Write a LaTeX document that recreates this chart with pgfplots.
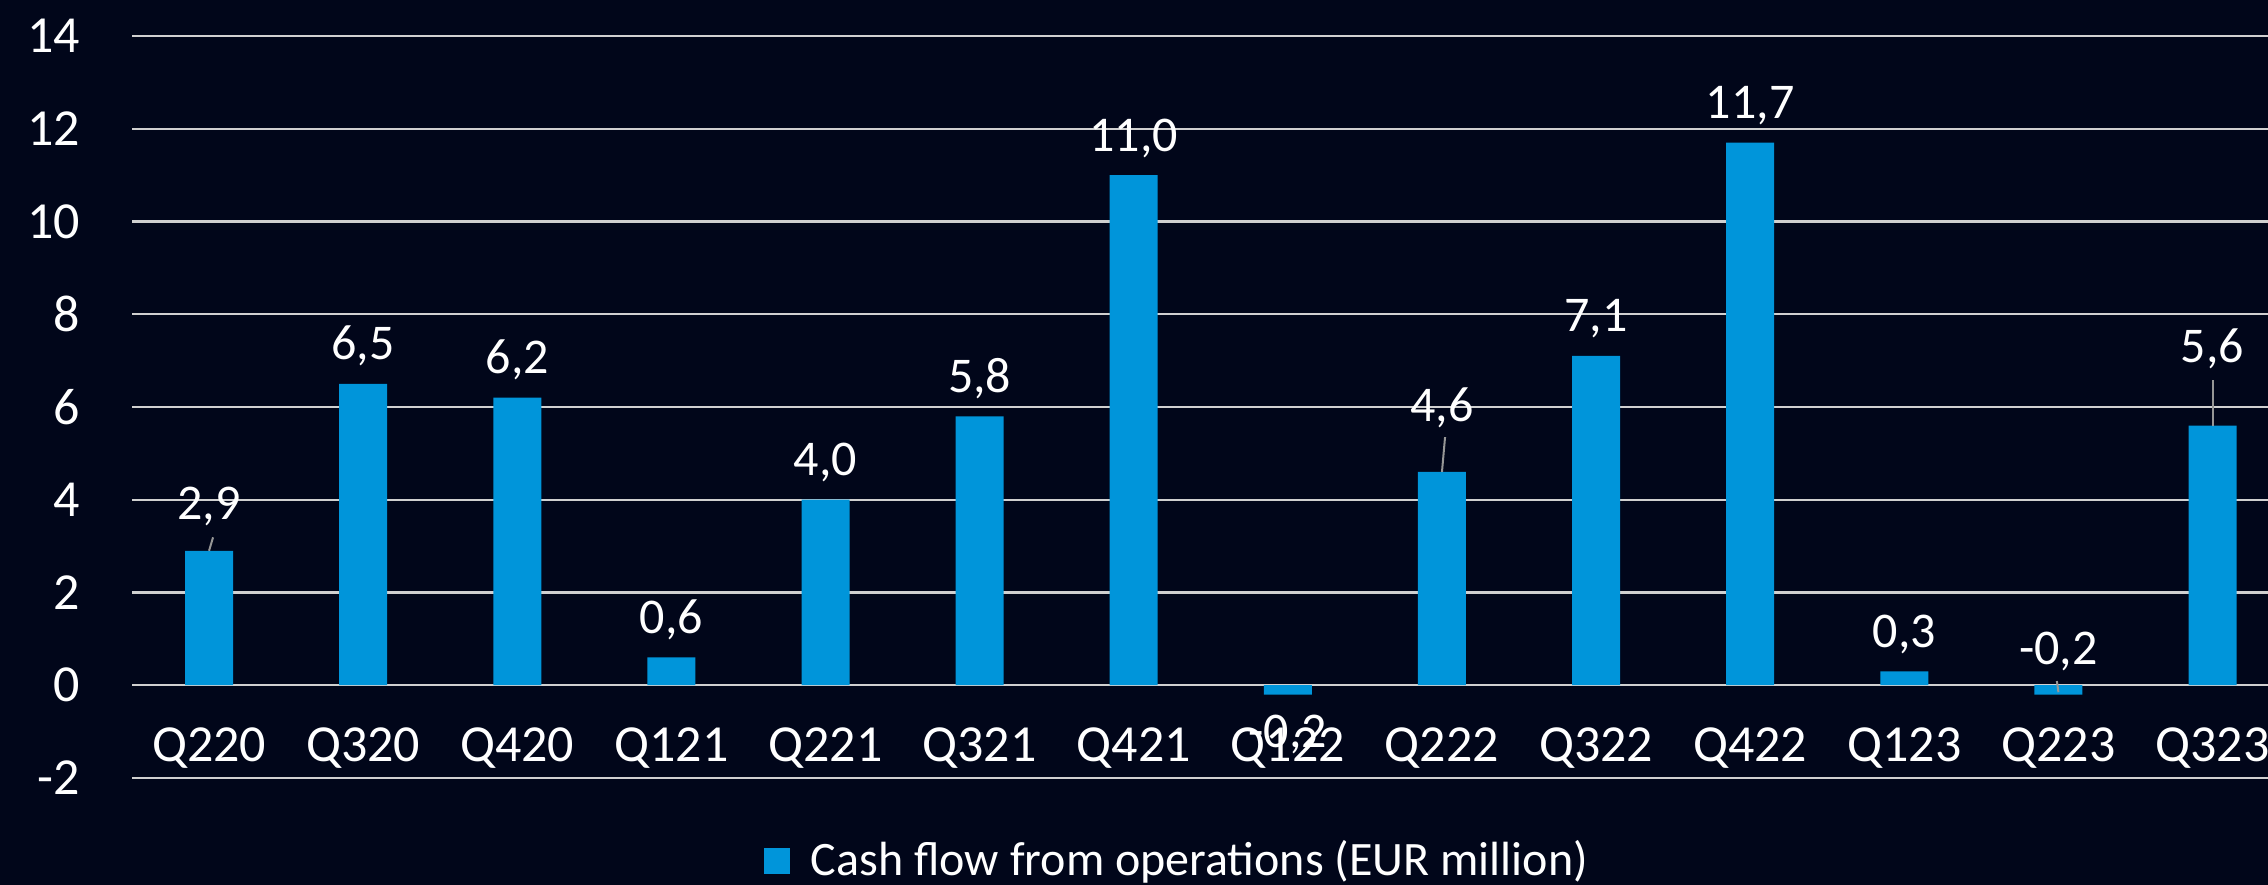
\documentclass[border=0pt]{standalone}
\usepackage{fontspec}
\setmainfont{Carlito}
\usepackage{pgfplots}
\usepackage{pgfplotstable}
\pgfplotsset{compat=1.18}

\definecolor{bg}{RGB}{1,6,26}
\definecolor{bar}{RGB}{0,149,218}
\definecolor{gridc}{RGB}{208,208,208}
\definecolor{leader}{RGB}{150,150,150}

% x = quarter index, dy = label baseline offset from bar end (pt)
\pgfplotstableread{
x  y     dy     lbl
0  2.9   7.75   2,9
1  6.5   6.0    6,5
2  6.2   6.0    6,2
3  0.6   6.0    0,6
4  4.0   6.0    4,0
5  5.8   6.0    5,8
6  11.0  6.0    11,0
7  -0.2  -13.25 -0,2
8  4.6   12.5   4,6
9  7.1   6.0    7,1
10 11.7  6.0    11,7
11 0.3   6.0    0,3
12 -0.2  7.5    -0,2
13 5.6   15.75  5,6
}\cashflow

\begin{document}
\begin{tikzpicture}
\useasboundingbox (0,0) rectangle (567pt,221.25pt);
\fill[bg] (0,0) rectangle (567pt,221.25pt);
\begin{axis}[
    at={(33pt,26.75pt)}, anchor=south west,
    scale only axis,
    width=534pt, height=185.5pt,
    xmin=-0.5, xmax=13.36,
    ymin=-2, ymax=14,
    ytick={-2,0,...,14},
    yticklabels={-2,0,2,4,6,8,10,12,14},
    xtick={0,...,13},
    xticklabels={Q220,Q320,Q420,Q121,Q221,Q321,Q421,Q122,Q222,Q322,Q422,Q123,Q223,Q323},
    axis line style={draw=none},
    major tick length=0pt,
    ymajorgrids,
    grid style={color=gridc, line width=0.6pt},
    x tick label style={anchor=base, inner sep=0pt, yshift=4pt,
        font=\fontsize{13}{15}\selectfont, text=white},
    y tick label style={anchor=east, inner sep=0pt, xshift=-12.75pt,
        font=\fontsize{13}{15}\selectfont, text=white},
    clip=false,
    legend style={at={(0.2954,-0.1119)}, anchor=west, draw=none, fill=none,
        inner sep=0pt, text=white, font=\fontsize{12}{14}\selectfont,
        /tikz/every even column/.append style={column sep=0pt}},
    legend cell align=left,
]
\addplot[ybar, bar width=12pt, fill=bar, draw=none,
    point meta=explicit symbolic,
    visualization depends on={\thisrow{dy}\as\dy},
    nodes near coords,
    nodes near coords style={anchor=base, inner sep=0pt, yshift=\dy pt,
        text=white, font=\fontsize{12.5}{14}\selectfont},
    legend image code/.code={\fill[bar] (0pt,-3.25pt) rectangle (6.5pt,3.25pt);},
] table[x=x, y=y, meta=lbl] {\cashflow};
\addlegendentry{\hspace{3.3pt}Cash flow from operations (EUR million)}
% leader lines of moved labels
\addplot[leader, line width=0.5pt, forget plot] coordinates {(0,2.9) (0.026,3.19)};
\addplot[leader, line width=0.5pt, forget plot] coordinates {(8,4.6) (8.02,5.35)};
\addplot[leader, line width=0.5pt, forget plot] coordinates {(12,-0.15) (11.99,0.09)};
\addplot[leader, line width=0.5pt, forget plot] coordinates {(13,5.6) (13,6.58)};
\end{axis}
\end{tikzpicture}
\end{document}
